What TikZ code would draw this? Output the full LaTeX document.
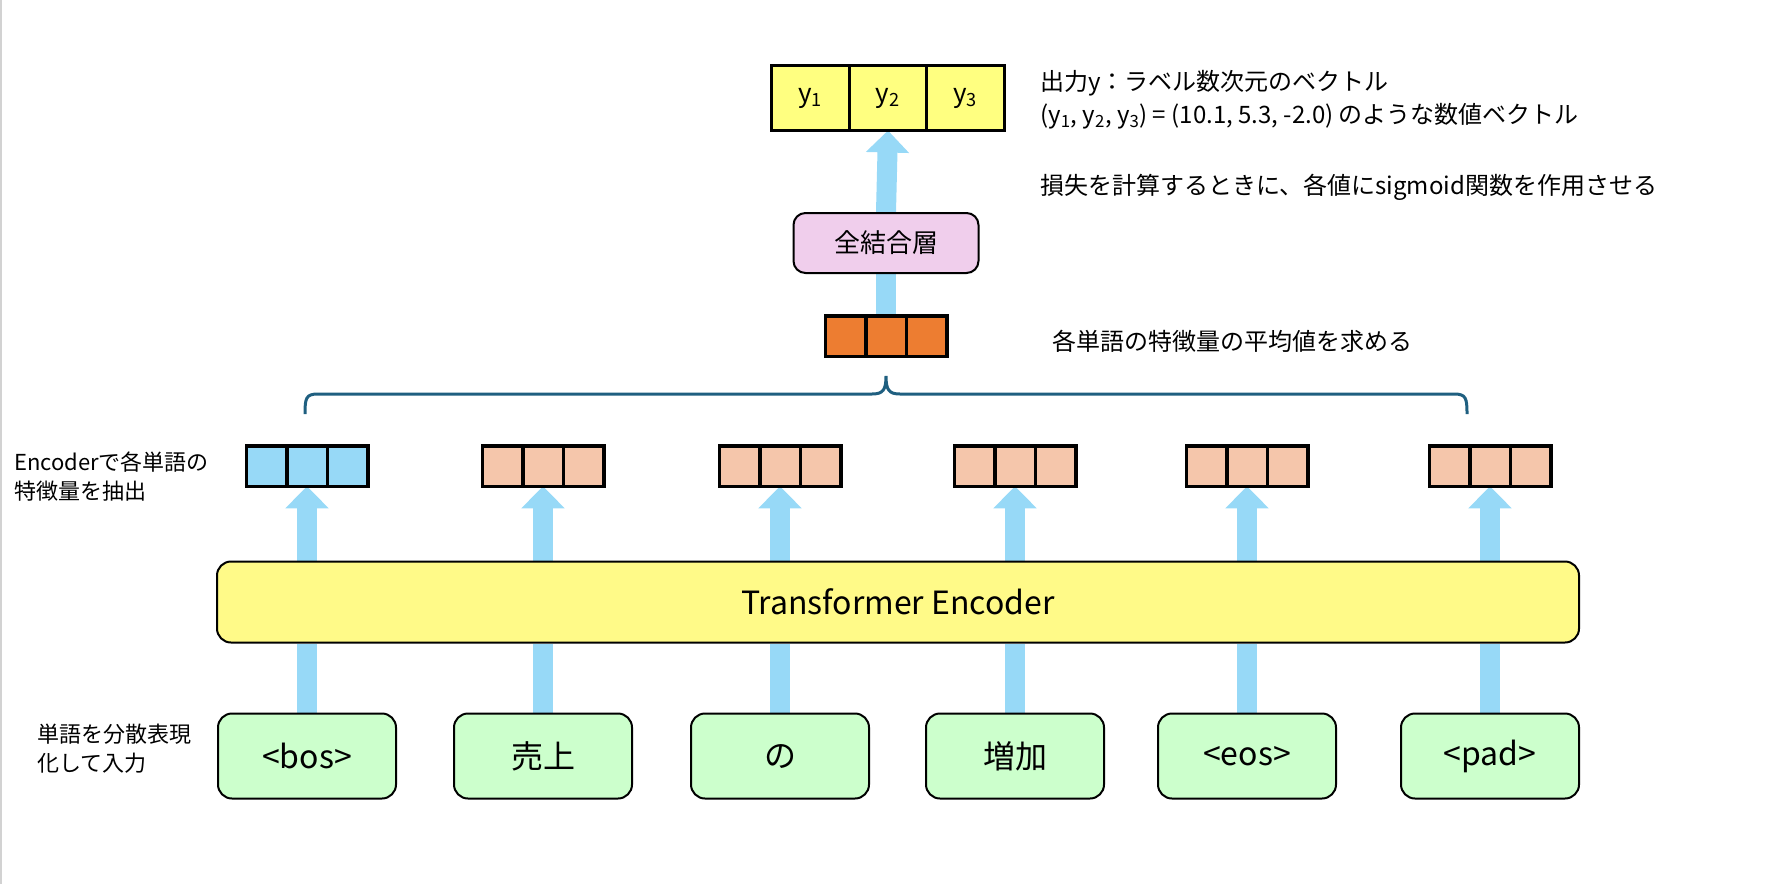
\documentclass[tikz,border=0pt]{standalone}
\usepackage{fontspec}
\setmainfont{Noto Sans CJK JP}
\usepackage{xcolor}
\usetikzlibrary{arrows.meta, positioning, calc, backgrounds}

\definecolor{flowblue}{HTML}{97D9F7}
\definecolor{featblue}{HTML}{97D9F7}
\definecolor{featpeach}{HTML}{F5C6AB}
\definecolor{featorange}{HTML}{ED7D31}
\definecolor{outyellow}{HTML}{FFFF80}
\definecolor{encyellow}{HTML}{FFFA88}
\definecolor{fcpink}{HTML}{F0CEEC}
\definecolor{tokgreen}{HTML}{CCFFCC}
\definecolor{bracecol}{HTML}{1F5F80}

\begin{document}
\begin{tikzpicture}[x=1pt,y=-1pt,
  token/.style={draw, line width=2pt, rounded corners=14pt, fill=tokgreen,
    minimum width=178pt, minimum height=85pt, font=\fontsize{32}{38}\selectfont},
  cell/.style={draw, line width=3.5pt, minimum width=40.5pt, minimum height=40.5pt,
    inner sep=0pt, outer sep=0pt},
  outcell/.style={draw, line width=3pt, minimum width=77.5pt, minimum height=65pt, inner sep=0pt,
    outer sep=0pt, fill=outyellow, font=\fontsize{26}{30}\selectfont},
  flow/.style={draw=flowblue, line width=20pt},
  flowhead/.style={flow, -{Triangle[width=42pt,length=22pt]}},
  note/.style={anchor=west, inner sep=0pt, align=left, font=\fontsize{24}{33}\selectfont}]
  \useasboundingbox (0,0) rectangle (1785,884);
  \draw[gray!35, line width=1.5pt] (1,0) -- (1,884);

  % encoder block
  \node[draw, line width=2pt, rounded corners=14pt, fill=encyellow, minimum width=1362pt,
    minimum height=81pt, font=\fontsize{32}{40}\selectfont] (enc) at (898,602) {Transformer Encoder};

  % tokens, word features and arrows
  \foreach \n/\cx/\col/\word in {1/307/featblue/{<bos>}, 2/543/featpeach/売上, 3/780/featpeach/の,
      4/1015/featpeach/増加, 5/1247/featpeach/{<eos>}, 6/1490/featpeach/{<pad>}} {
    \node[token] (w\n) at (\cx,756) {\word};
    \node[cell, fill=\col] (f\n2) at (\cx,466) {};
    \node[cell, fill=\col, left=0pt of f\n2] (f\n1) {};
    \node[cell, fill=\col, right=0pt of f\n2] (f\n3) {};
    \begin{scope}[on background layer]
      \draw[flow] (w\n.north) -- (w\n.north |- enc.south);
      \draw[flowhead] (f\n2.south |- enc.north) -- (f\n2.south);
    \end{scope}
  }

  % mean over words
  \draw[bracecol, line width=3pt] (305,414) .. controls (305,398) and (306,394) .. (318,394)
    -- (872,394) .. controls (883,394) and (886,390) .. (886,376)
    .. controls (886,390) and (889,394) .. (900,394)
    -- (1454,394) .. controls (1466,394) and (1467,398) .. (1467,414);
  \node[cell, fill=featorange] (avg2) at (886,336) {};
  \node[cell, fill=featorange, left=0pt of avg2] (avg1) {};
  \node[cell, fill=featorange, right=0pt of avg2] (avg3) {};

  % dense layer and output
  \node[draw, line width=2pt, rounded corners=12pt, fill=fcpink, minimum width=185pt,
    minimum height=60pt, font=\fontsize{26}{30}\selectfont] (fc) at (886,243) {全結合層};
  \node[outcell] (out2) at (888,98) {y\textsubscript{2}};
  \node[outcell, left=0pt of out2] (out1) {y\textsubscript{1}};
  \node[outcell, right=0pt of out2] (out3) {y\textsubscript{3}};
  \begin{scope}[on background layer]
    \draw[flow] (avg2.north) -- (fc.south);
    \draw[flowhead] (fc.north) -- (out2.south);
  \end{scope}

  % notes
  \node[note] (outnote) at (1040,100) {出力y：ラベル数次元のベクトル\\(y\textsubscript{1}, y\textsubscript{2}, y\textsubscript{3}) = (10.1, 5.3, -2.0) のような数値ベクトル};
  \node[note] (lossnote) at (1040,187) {損失を計算するときに、各値にsigmoid関数を作用させる};
  \node[note] (avgnote) at (1052,341) {各単語の特徴量の平均値を求める};
  \node[note, font=\fontsize{22}{29}\selectfont] (encnote) at (14,477) {Encoderで各単語の\\特徴量を抽出};
  \node[note, font=\fontsize{22}{29}\selectfont] (innote) at (37,749) {単語を分散表現\\化して入力};
\end{tikzpicture}
\end{document}
